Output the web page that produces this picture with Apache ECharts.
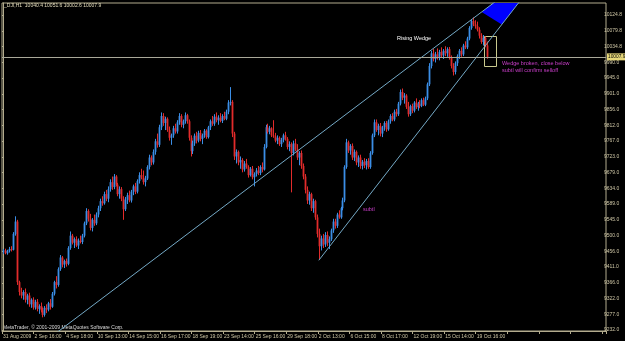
<!DOCTYPE html>
<html>
<head>
<meta charset="utf-8">
<script src="https://cdn.jsdelivr.net/npm/echarts@6/dist/echarts.min.js"></script>
<style>
html,body{margin:0;padding:0;background:#000;}
#c{width:625px;height:341px;}
</style>
</head>
<body>
<div id="c"></div>
<script>
// ---- DATA ----
// hourly bars: [open, high, low, close]
const candles = [
[9455,9462,9448,9458],[9458,9463,9447,9450],[9450,9460,9446,9457],[9457,9468,9452,9462],[9462,9470,9455,9460],
[9460,9510,9458,9505],[9505,9555,9500,9540],[9540,9545,9360,9368],[9368,9372,9330,9340],[9340,9352,9322,9330],
[9330,9345,9318,9340],[9340,9350,9310,9318],[9318,9335,9305,9330],[9330,9338,9298,9305],[9305,9322,9295,9318],
[9318,9325,9290,9296],[9296,9318,9290,9312],[9312,9320,9285,9292],[9292,9305,9278,9300],[9300,9310,9282,9288],
[9288,9296,9268,9275],[9275,9300,9270,9295],[9295,9305,9280,9290],[9290,9312,9285,9308],[9308,9320,9290,9298],
[9298,9340,9295,9335],[9335,9372,9330,9368],[9368,9385,9350,9360],[9360,9410,9355,9405],[9405,9445,9400,9438],
[9438,9442,9410,9418],[9418,9432,9408,9428],[9428,9435,9412,9420],[9420,9470,9416,9465],[9465,9512,9460,9500],
[9500,9505,9475,9480],[9480,9495,9465,9490],[9490,9498,9468,9472],[9472,9492,9462,9486],[9486,9500,9478,9482],
[9482,9505,9476,9500],[9500,9540,9495,9535],[9535,9578,9530,9570],[9570,9575,9540,9548],[9548,9562,9515,9522],
[9522,9550,9512,9545],[9545,9560,9528,9535],[9535,9566,9530,9560],[9560,9585,9552,9578],[9578,9605,9570,9598],
[9598,9612,9585,9592],[9592,9625,9588,9618],[9618,9630,9598,9605],[9605,9640,9595,9632],[9632,9660,9625,9652],
[9652,9668,9630,9638],[9638,9675,9632,9668],[9668,9672,9640,9645],[9645,9650,9612,9618],[9618,9640,9605,9632],
[9632,9638,9598,9605],[9605,9612,9545,9575],[9575,9610,9570,9602],[9602,9622,9590,9615],[9615,9628,9595,9600],
[9600,9630,9594,9625],[9625,9645,9615,9640],[9640,9650,9618,9625],[9625,9660,9620,9655],[9655,9680,9648,9672],
[9672,9690,9660,9665],[9665,9685,9645,9652],[9652,9670,9640,9662],[9662,9700,9658,9695],[9695,9730,9688,9722],
[9722,9728,9700,9708],[9708,9745,9702,9738],[9738,9775,9730,9768],[9768,9790,9750,9758],[9758,9815,9752,9808],
[9808,9850,9800,9840],[9840,9848,9812,9820],[9820,9838,9800,9832],[9832,9836,9795,9800],[9800,9810,9770,9778],
[9778,9790,9758,9785],[9785,9812,9778,9805],[9805,9818,9790,9796],[9796,9828,9790,9822],[9822,9848,9815,9840],
[9840,9845,9808,9815],[9815,9830,9805,9825],[9825,9850,9818,9842],[9842,9846,9818,9825],[9825,9830,9770,9778],
[9778,9785,9725,9740],[9740,9770,9732,9762],[9762,9790,9755,9784],[9784,9795,9762,9770],[9770,9798,9765,9792],
[9792,9800,9768,9775],[9775,9790,9760,9785],[9785,9803,9778,9798],[9798,9802,9775,9780],[9780,9812,9776,9808],
[9808,9830,9800,9825],[9825,9840,9812,9818],[9818,9845,9812,9838],[9838,9850,9822,9828],[9828,9842,9815,9835],
[9835,9848,9822,9826],[9826,9845,9820,9840],[9840,9852,9828,9832],[9832,9858,9828,9852],[9852,9885,9845,9878],
[9878,9922,9870,9880],[9880,9885,9780,9790],[9790,9795,9715,9725],[9725,9745,9705,9738],[9738,9742,9700,9708],
[9708,9725,9690,9715],[9715,9720,9680,9688],[9688,9712,9682,9705],[9705,9718,9690,9695],[9695,9700,9665,9672],
[9672,9695,9668,9690],[9690,9698,9660,9666],[9666,9680,9640,9675],[9675,9692,9668,9685],[9685,9698,9672,9678],
[9678,9700,9672,9695],[9695,9708,9680,9688],[9688,9760,9685,9752],[9752,9815,9748,9808],[9808,9818,9790,9795],
[9795,9812,9788,9805],[9805,9808,9780,9785],[9785,9828,9778,9782],[9782,9792,9765,9770],[9770,9785,9760,9778],
[9778,9782,9755,9760],[9760,9778,9752,9772],[9772,9790,9765,9785],[9785,9795,9770,9775],[9775,9780,9745,9752],
[9752,9768,9740,9760],[9760,9765,9623,9735],[9735,9770,9728,9762],[9762,9775,9740,9745],[9745,9760,9715,9722],
[9722,9740,9700,9735],[9735,9742,9690,9698],[9698,9705,9660,9668],[9668,9675,9620,9630],[9630,9640,9590,9600],
[9600,9625,9588,9618],[9618,9622,9570,9578],[9578,9605,9565,9598],[9598,9602,9545,9552],[9552,9560,9495,9505],
[9505,9520,9433,9470],[9470,9500,9458,9492],[9492,9505,9465,9475],[9475,9510,9468,9502],[9502,9512,9470,9480],
[9480,9498,9462,9490],[9490,9520,9485,9515],[9515,9548,9508,9540],[9540,9548,9520,9528],[9528,9565,9522,9560],
[9560,9572,9548,9552],[9552,9582,9548,9578],[9578,9608,9572,9600],[9600,9700,9595,9695],[9695,9775,9690,9765],
[9765,9770,9735,9742],[9742,9760,9730,9755],[9755,9762,9715,9722],[9722,9745,9712,9738],[9738,9742,9700,9708],
[9708,9728,9695,9722],[9722,9730,9690,9698],[9698,9715,9688,9710],[9710,9720,9692,9700],[9700,9718,9688,9712],
[9712,9720,9690,9695],[9695,9740,9690,9735],[9735,9790,9730,9785],[9785,9830,9780,9822],[9822,9830,9795,9800],
[9800,9818,9785,9812],[9812,9820,9782,9790],[9790,9812,9780,9808],[9808,9825,9798,9820],[9820,9826,9795,9802],
[9802,9830,9798,9825],[9825,9845,9818,9840],[9840,9848,9825,9830],[9830,9858,9825,9852],[9852,9860,9838,9845],
[9845,9880,9840,9875],[9875,9915,9870,9908],[9908,9918,9885,9892],[9892,9905,9875,9898],[9898,9902,9860,9866],
[9866,9880,9838,9845],[9845,9872,9840,9868],[9868,9875,9848,9855],[9855,9882,9850,9878],[9878,9890,9860,9865],
[9865,9880,9855,9875],[9875,9885,9862,9868],[9868,9890,9865,9885],[9885,9892,9868,9872],[9872,9895,9868,9890],
[9890,9935,9885,9930],[9930,9990,9925,9982],[9982,10025,9975,10018],[10018,10030,9995,10002],[10002,10022,9992,10015],
[10015,10032,10000,10008],[10008,10028,9998,10022],[10022,10035,10005,10012],[10012,10030,10002,10025],[10025,10038,10010,10018],
[10018,10035,10008,10030],[10030,10036,10000,10005],[10005,10012,9975,9982],[9982,9990,9955,9965],[9965,9995,9958,9990],
[9990,10015,9982,10010],[10010,10030,10002,10025],[10025,10035,10008,10015],[10015,10045,10010,10040],[10040,10052,10030,10035],
[10035,10065,10030,10060],[10060,10095,10055,10090],[10090,10115,10085,10110],[10110,10120,10095,10100],[10100,10112,10088,10095],
[10095,10108,10080,10085],[10085,10092,10060,10068],[10068,10075,10045,10050],[10050,10070,10040,10062],[10062,10066,10035,10040.4],
[10040.4,10051.6,10002.6,10007.9]
];
const slotCount = 306;               // bar slots incl. right-side chart shift
const lastPrice = 10007.9;
const xLabels = ['31 Aug 2009','2 Sep 16:00','4 Sep 18:00','10 Sep 13:00','14 Sep 15:00','16 Sep 17:00',
  '18 Sep 19:00','23 Sep 14:00','25 Sep 16:00','29 Sep 18:00','2 Oct 13:00','6 Oct 15:00','8 Oct 17:00',
  '12 Oct 19:00','15 Oct 14:00','19 Oct 16:00'];
const yLabels = ['9232.0','9277.0','9322.0','9366.0','9411.0','9456.0','9500.0','9545.0','9589.0','9634.0',
  '9679.0','9723.0','9767.0','9812.0','9856.0','9901.0','9945.0','9990.0','10034.8','10079.8','10124.8'];
const upperLine = [[20, 9194], [262, 10218]];   // trendline from the early-Sept low
const lowerLine = [[160, 9430], [262, 10167]];  // "subtl" support line from the 2 Oct low
const wedgeFill = [[242.5, 10135.5], [252.7, 10100], [262, 10167], [262, 10218]];
const yMin = 9229.2, yMax = 10160.9;

// ---- CHART ----
const FONT = 'Liberation Sans';
const AX = '#b3ac8e', TXT = '#cfc7a6';
const UP = '#3b8ee6', DOWN = '#e22b2b';
const cats = Array.from({length: slotCount}, (_, i) => String(i));
const cdata = candles.map((c, i) => [i, c[0], c[1], c[2], c[3]]); // idx, open, high, low, close

function renderCandle(params, api) {
  const i = api.value(0), o = api.value(1), h = api.value(2), l = api.value(3), c = api.value(4);
  const pH = api.coord([i, h]), pL = api.coord([i, l]);
  const pO = api.coord([i, o]), pC = api.coord([i, c]);
  const col = c >= o ? UP : DOWN;
  const x = Math.round(pH[0]) + 0.5;
  const top = Math.min(pO[1], pC[1]), bh = Math.max(1, Math.abs(pO[1] - pC[1]));
  return {type: 'group', children: [
    {type: 'line', shape: {x1: x, y1: pH[1], x2: x, y2: pL[1]}, style: {stroke: col, lineWidth: 1}},
    {type: 'rect', shape: {x: x - 0.9, y: top, width: 1.8, height: bh}, style: {fill: col}}
  ]};
}

const chart = echarts.init(document.getElementById('c'), null, {renderer: 'canvas'});
chart.setOption({
  backgroundColor: '#000',
  animation: false,
  grid: [
    {left: 2, right: 19, top: 3, bottom: 10, show: true, borderColor: AX, borderWidth: 1, backgroundColor: 'transparent'},
    {left: 2, right: 19, top: 15, bottom: 11, show: false}
  ],
  xAxis: [
    {type: 'category', gridIndex: 0, data: cats, boundaryGap: true,
      axisLine: {show: true, lineStyle: {color: AX}},
      axisTick: {show: true, interval: 15, length: 3, lineStyle: {color: AX}},
      axisLabel: {show: true, interval: 15, align: 'left', margin: 3, fontSize: 5, fontFamily: FONT, color: TXT,
        formatter: (v, i) => xLabels[Math.round(i / 16)] || ''},
      splitLine: {show: false}},
    {type: 'value', gridIndex: 0, min: -0.5, max: slotCount - 0.5, show: false},
    {type: 'value', gridIndex: 1, show: false}
  ],
  yAxis: [
    {type: 'value', gridIndex: 0, min: yMin, max: yMax, position: 'right', scale: true,
      axisLine: {show: true, lineStyle: {color: AX}}, axisTick: {show: false}, axisLabel: {show: false},
      splitLine: {show: false}},
    {type: 'category', gridIndex: 1, data: yLabels, boundaryGap: false, position: 'right',
      axisLine: {show: false},
      axisTick: {show: true, length: 2, interval: 0, lineStyle: {color: AX}},
      axisLabel: {show: true, interval: 0, margin: 3, fontSize: 5, fontFamily: FONT, color: TXT},
      splitLine: {show: false}}
  ],
  series: [
    {type: 'custom', xAxisIndex: 0, yAxisIndex: 0, data: cdata, renderItem: renderCandle, silent: true,
      dimensions: ['i', 'open', 'high', 'low', 'close'],
      encode: {x: 0, y: [1, 2, 3, 4]},
      markLine: {silent: true, symbol: ['none', 'none'],
        lineStyle: {color: '#a9a899', type: 'solid', width: 1},
        label: {show: true, position: 'end', distance: 1, formatter: String(lastPrice),
          backgroundColor: '#e6d77a', color: '#000', fontSize: 4.8, fontFamily: FONT, padding: [1, 1, 1, 1]},
        data: [{yAxis: lastPrice}]}},
    {type: 'line', xAxisIndex: 1, yAxisIndex: 0, data: upperLine, symbol: 'none', clip: true, silent: true,
      lineStyle: {color: '#74a9c6', width: 1}},
    {type: 'line', xAxisIndex: 1, yAxisIndex: 0, data: lowerLine, symbol: 'none', clip: true, silent: true,
      lineStyle: {color: '#74a9c6', width: 1}},
    {type: 'custom', xAxisIndex: 1, yAxisIndex: 0, clip: true, silent: true, data: [wedgeFill[0]],
      renderItem: (params, api) => ({type: 'polygon',
        shape: {points: wedgeFill.map(p => api.coord(p))},
        style: {fill: '#0000ff'}})}
  ],
  graphic: [
    {type: 'text', left: 4, top: 3, style: {text: '_DJI,H1  10040.4 10051.6 10002.6 10007.9', fill: '#e6dfbf', font: '5px ' + FONT}},
    {type: 'text', left: 397, top: 35, style: {text: 'Rising Wedge', fill: '#ffffff', font: '5.5px ' + FONT}},
    {type: 'text', left: 502, top: 60, style: {text: 'Wedge broken, close below', fill: '#cc3fcc', font: '5.5px ' + FONT}},
    {type: 'text', left: 502, top: 67, style: {text: 'subtl will confirm selloff', fill: '#cc3fcc', font: '5.5px ' + FONT}},
    {type: 'text', left: 363, top: 206, style: {text: 'subtl', fill: '#cc3fcc', font: '5.5px ' + FONT}},
    {type: 'text', left: 3, top: 325, style: {text: 'MetaTrader, \u00a9 2001-2009 MetaQuotes Software Corp.', fill: '#dcdcdc', font: '5px ' + FONT}},
    {type: 'rect', shape: {x: 484.5, y: 36.5, width: 12, height: 30}, style: {fill: 'none', stroke: '#c9c98e', lineWidth: 1}}
  ]
});
</script>
</body>
</html>
